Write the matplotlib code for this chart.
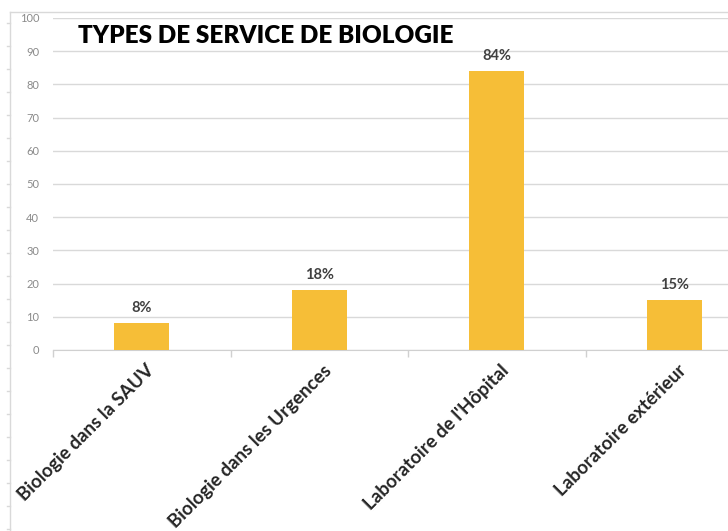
import matplotlib
matplotlib.use("Agg")
import matplotlib.pyplot as plt
from matplotlib.lines import Line2D

categories = ["Biologie dans la SAUV", "Biologie dans les Urgences",
              "Laboratoire de l'Hôpital", "Laboratoire extérieur"]
values = [8, 18, 84, 15]
labels = ["8%", "18%", "84%", "15%"]
yticks = list(range(0, 101, 10))
title = "TYPES DE SERVICE DE BIOLOGIE"

W, H = 728, 531
fig = plt.figure(figsize=(W / 100, H / 100), dpi=100)
fig.patch.set_facecolor("white")

x0, x1 = 53, 763
y0, y1 = 350, 18
ax = fig.add_axes([x0 / W, (H - y0) / H, (x1 - x0) / W, (y0 - y1) / H])
ax.set_xlim(-0.5, 3.5)
ax.set_ylim(0, 100)

xs = list(range(len(categories)))
ax.bar(xs, values, width=0.31, color="#F6BE37", zorder=3)
for x, v, l in zip(xs, values, labels):
    ax.annotate(l, (x, v), xytext=(0, 6), textcoords="offset points",
                ha="center", va="bottom", fontsize=10.5, fontweight="bold",
                color="#404040", family="Lato")

ax.set_yticks(yticks)
ax.set_yticklabels([str(t) for t in yticks], fontsize=8, color="#8a8a8a", family="Lato")
ax.tick_params(axis="y", length=0, pad=10)
ax.grid(axis="y", color="#d9d9d9", linewidth=1, zorder=0)

ax.set_xticks([-0.5, 0.5, 1.5, 2.5, 3.5], minor=False)
ax.set_xticklabels([])
ax.tick_params(axis="x", length=5, color="#d0d0d0", width=1)
for x, c in zip(xs, categories):
    ax.text(x + 0.02, -3.5, c, rotation=45, ha="right", va="top",
            rotation_mode="anchor", fontsize=13.5, fontweight="bold",
            color="#262626", family="Lato")

for s in ["top", "right", "left"]:
    ax.spines[s].set_visible(False)
ax.spines["bottom"].set_color("#d0d0d0")

fig.text(78 / W, 1 - 36 / H, title, fontsize=17.5, fontweight="heavy",
         color="#000000", family="Lato", va="center", ha="left")

# outer chart border (cropped)
bx, by = 10, 12
fig.add_artist(Line2D([bx / W, bx / W], [0, 1 - by / H], color="#d9d9d9", lw=1,
                      transform=fig.transFigure))
fig.add_artist(Line2D([bx / W, 1], [1 - by / H, 1 - by / H], color="#d9d9d9", lw=1,
                      transform=fig.transFigure))
yy = 23
while yy < H:
    fig.add_artist(Line2D([(bx - 3) / W, bx / W], [1 - yy / H, 1 - yy / H],
                          color="#d9d9d9", lw=1, transform=fig.transFigure))
    yy += 23

fig.savefig("out.png", dpi=100)
